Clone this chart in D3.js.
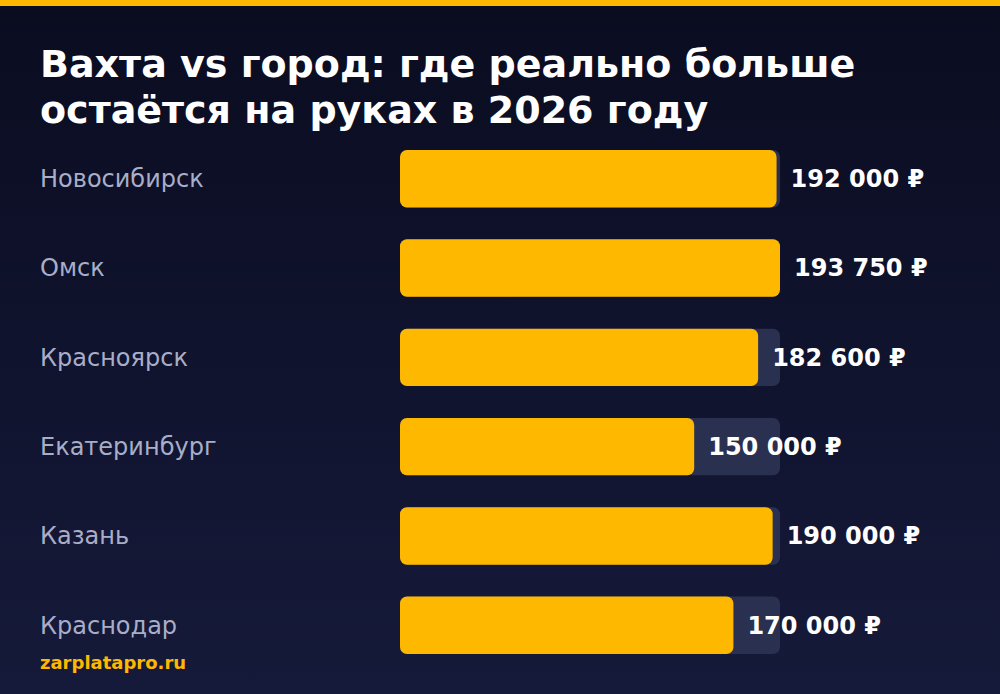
<!DOCTYPE html>
<html><head><meta charset="utf-8">
<script src="https://cdn.jsdelivr.net/npm/d3@7"></script>
<style>body{margin:0;background:#0b0d22}</style>
</head><body>
<svg id="chart"></svg>
<script>
var cities = ["Новосибирск","Омск","Красноярск","Екатеринбург","Казань","Краснодар"]
var salaries = [192000,193750,182600,150000,190000,170000]
var valueLabels = ["192 000 ₽","193 750 ₽","182 600 ₽","150 000 ₽","190 000 ₽","170 000 ₽"]

var screen = {width:1000, height:694}
var svg = d3.select("#chart")
    .attr("width",screen.width)
    .attr("height",screen.height)
    .style("font-family","'DejaVu Sans', sans-serif")

//background
var defs = svg.append("defs")
var grad = defs.append("linearGradient").attr("id","bg")
    .attr("x1",0).attr("y1",0).attr("x2",0).attr("y2",1)
grad.append("stop").attr("offset","0%").attr("stop-color","#0a0c20")
grad.append("stop").attr("offset","100%").attr("stop-color","#161a3a")
svg.append("rect").attr("width",screen.width).attr("height",screen.height).attr("fill","url(#bg)")
svg.append("rect").attr("width",screen.width).attr("height",6).attr("fill","#ffb800")

//title
var title = svg.append("text").attr("x",40).attr("fill","#ffffff")
    .attr("font-size",38).attr("font-weight","bold")
title.append("tspan").attr("x",40).attr("y",77).text("Вахта vs город: где реально больше")
title.append("tspan").attr("x",40).attr("y",123).text("остаётся на руках в 2026 году")

var xScale = d3.scaleLinear()
    .domain([0,d3.max(salaries)])
    .range([0,380])
var yScale = d3.scaleBand()
    .domain(cities)
    .range([150,654])
    .paddingInner(0.357)
    .paddingOuter(0)
var x0 = 400

var rows = svg.selectAll(".row")
    .data(cities)
    .enter()
    .append("g")
    .classed("row",true)
    .attr("transform",function(c){ return "translate(0,"+yScale(c)+")" })

rows.append("rect")
    .attr("x",x0).attr("width",xScale(d3.max(salaries)))
    .attr("height",yScale.bandwidth()).attr("rx",7)
    .attr("fill","#2a3050")

rows.append("rect")
    .attr("x",x0).attr("width",function(c,i){ return xScale(salaries[i]) })
    .attr("height",yScale.bandwidth()).attr("rx",7)
    .attr("fill","#ffb800")

rows.append("text")
    .attr("x",40).attr("y",yScale.bandwidth()/2).attr("dy","0.35em")
    .attr("font-size",24).attr("fill","#a9aec8")
    .text(function(c){ return c })

rows.append("text")
    .attr("x",function(c,i){ return x0+xScale(salaries[i])+14 })
    .attr("y",yScale.bandwidth()/2).attr("dy","0.35em")
    .attr("font-size",24).attr("font-weight","bold").attr("fill","#ffffff")
    .text(function(c,i){ return valueLabels[i] })

svg.append("text").attr("x",40).attr("y",669)
    .attr("font-size",18).attr("font-weight","bold").attr("fill","#ffb800")
    .text("zarplatapro.ru")
</script>
</body></html>
